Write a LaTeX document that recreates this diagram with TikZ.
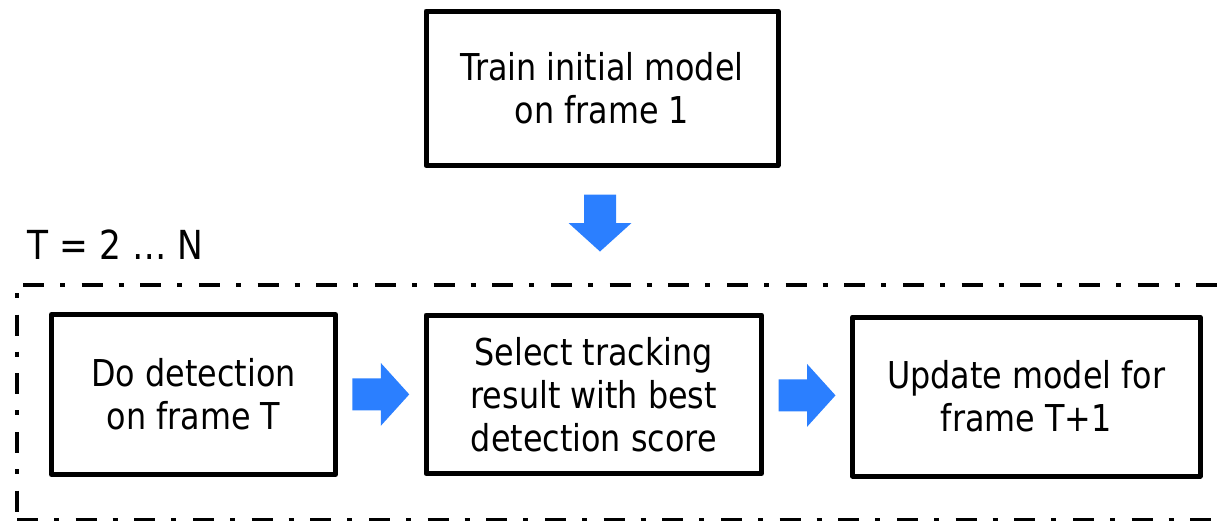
\documentclass[tikz,border=0pt]{standalone}
\usepackage{fontspec}
\newfontfamily\boxfont[FakeStretch=0.86]{DejaVu Sans}
\usetikzlibrary{calc}
\definecolor{arrowblue}{RGB}{43,127,255}
\tikzset{
  stepbox/.style={draw=black, line width=5pt, line join=round, inner sep=0pt,
    align=center, font={\boxfont\fontsize{37}{43}\selectfont}},
  frameline/.style={draw=black, line width=4.5pt},
  frametop/.style={frameline, dash pattern=on 21pt off 16pt on 5pt off 16.67pt},
  frameside/.style={frameline, dash pattern=on 5pt off 16.67pt on 21pt off 16pt},
  blockarrow/.pic={
    \fill[arrowblue] (-28.5,-16) -- (0,-16) -- (0,-31.5) -- (28.5,0)
      -- (0,31.5) -- (0,16) -- (-28.5,16) -- cycle;
  }
}
\begin{document}
\begin{tikzpicture}[x=1pt,y=-1pt]
  \useasboundingbox (0,0) rectangle (1219,520);

  % loop frame over frames 2..N (runs off the right and bottom edges)
  \begin{scope}
    \clip (0,0) rectangle (1219,520);
    \coordinate (frameTL) at (23,285);
    \coordinate (frameTR) at (1260,285);
    \coordinate (frameLT) at (17,293);
    \coordinate (frameLB) at (17,512);
    \coordinate (frameBL) at (17,520);
    \coordinate (frameBR) at (1260,520);
    \draw[frametop] (frameTL) -- (frameTR);
    \draw[frameside] (frameLT) -- (frameLB);
    \draw[frametop] (frameBL) -- (frameBR);
  \end{scope}

  \node[anchor=base west, font={\boxfont\fontsize{40}{46}\selectfont}] (range)
    at (24,259) {T = 2 … N};

  % process steps
  \node[stepbox, minimum width=352pt, minimum height=154.5pt] (train)
    at (602,88.25) {Train initial model\\on frame 1};
  \node[stepbox, minimum width=284pt, minimum height=160pt] (detect)
    at (193.5,394.5) {Do detection\\on frame T};
  \node[stepbox, minimum width=335.5pt, minimum height=158.5pt] (select)
    at (593.75,394.25) {Select tracking\\result with best\\detection score};
  \node[stepbox, minimum width=347.5pt, minimum height=159pt] (update)
    at (1026.25,396.5) {Update model for\\frame T+1};

  % block arrows between the steps
  \pic[rotate=-90] at ($(train.south)+(-2,55)$) {blockarrow};
  \pic at ($(detect.east)!0.5!(select.west)$) {blockarrow};
  \pic at ($(select.east)!0.5!(update.west)$) {blockarrow};
\end{tikzpicture}
\end{document}
